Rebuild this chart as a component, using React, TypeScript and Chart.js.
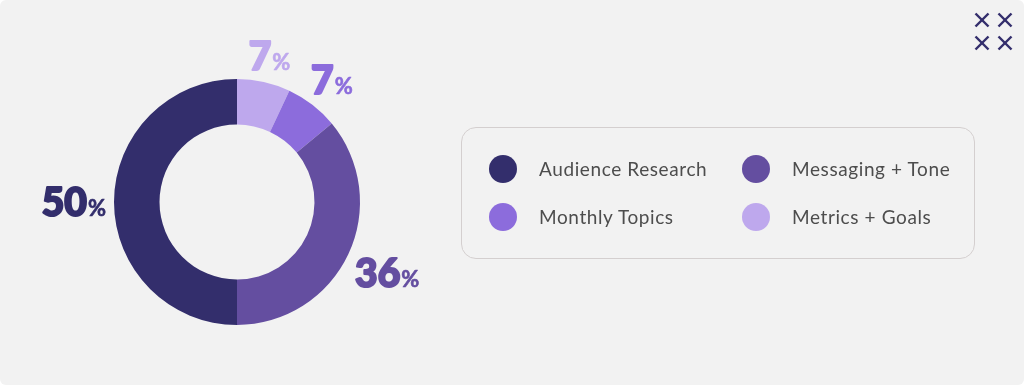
import React, { useEffect, useRef } from "react";
import { Chart, registerables } from "chart.js";

Chart.register(...registerables);

const categories = ["Metrics + Goals", "Monthly Topics", "Messaging + Tone", "Audience Research"];
const values = [7, 7, 36, 50];
const colors = ["#bea8ed", "#8c6cdc", "#644ea0", "#332e6c"];
const legendOrder = ["Audience Research", "Messaging + Tone", "Monthly Topics", "Metrics + Goals"];

const labelPlugin = {
  id: "outerLabels",
  afterDatasetsDraw(chart: any) {
    const ctx = chart.ctx;
    const meta = chart.getDatasetMeta(0);
    const data = chart.data.datasets[0].data as number[];
    const cols = chart.data.datasets[0].backgroundColor as string[];
    const numFont = "900 39px Lato";
    const pctFont = "700 22px Lato";
    const capH = 39 * 0.72;
    const gap = 8;
    meta.data.forEach((arc: any, i: number) => {
      const { x, y, startAngle, endAngle, outerRadius } = arc.getProps(
        ["x", "y", "startAngle", "endAngle", "outerRadius"],
        true
      );
      const mid = (startAngle + endAngle) / 2;
      const dx = Math.cos(mid);
      const dy = Math.sin(mid);
      const num = String(data[i]);
      ctx.save();
      ctx.font = numFont;
      const wNum = ctx.measureText(num).width + 1;
      ctx.font = pctFont;
      const wPct = ctx.measureText("%").width;
      const w = wNum + wPct;
      const h = capH;
      const dist = outerRadius + gap + Math.abs(dx) * (w / 2) + Math.abs(dy) * (h / 2);
      const cx = x + dx * dist;
      const cy = y + dy * dist;
      const left = cx - w / 2;
      const base = cy + h / 2;
      ctx.fillStyle = cols[i];
      ctx.strokeStyle = cols[i];
      ctx.lineJoin = "round";
      ctx.lineWidth = 2;
      ctx.textBaseline = "alphabetic";
      ctx.textAlign = "left";
      ctx.font = numFont;
      ctx.fillText(num, left, base);
      ctx.strokeText(num, left, base);
      ctx.font = pctFont;
      ctx.lineWidth = 0.6;
      ctx.fillText("%", left + wNum, base);
      ctx.strokeText("%", left + wNum, base);
      ctx.restore();
    });
  },
};

function XIcon({ x, y }: { x: number; y: number }) {
  return (
    <g transform={`translate(${x},${y})`} stroke="#332e6c" strokeWidth={2.4} strokeLinecap="butt">
      <line x1={-6.5} y1={-6.5} x2={6.5} y2={6.5} />
      <line x1={-6.5} y1={6.5} x2={6.5} y2={-6.5} />
    </g>
  );
}

export default function App() {
  const canvasRef = useRef<HTMLCanvasElement | null>(null);

  useEffect(() => {
    document.body.style.margin = "0";
    document.body.style.background = "#ffffff";
    const chart = new Chart(canvasRef.current as HTMLCanvasElement, {
      type: "doughnut",
      data: {
        labels: categories,
        datasets: [
          {
            data: values,
            backgroundColor: colors,
            borderWidth: 0,
          },
        ],
      },
      options: {
        animation: false,
        responsive: false,
        maintainAspectRatio: false,
        cutout: "63%",
        layout: { padding: { top: 79, bottom: 60, left: 60, right: 60 } },
        plugins: {
          legend: { display: false },
          tooltip: { enabled: false },
        },
      },
      plugins: [labelPlugin],
    });
    return () => chart.destroy();
  }, []);

  const legendColor = (name: string) => colors[categories.indexOf(name)];

  return (
    <div
      style={{
        position: "relative",
        width: 1024,
        height: 385,
        background: "#f2f2f2",
        borderRadius: 6,
        overflow: "hidden",
      }}
    >
      <canvas
        ref={canvasRef}
        width={474}
        height={385}
        style={{ position: "absolute", left: 0, top: 0, width: 474, height: 385 }}
      />
      <div
        style={{
          position: "absolute",
          left: 461,
          top: 127,
          width: 512,
          height: 130,
          border: "1px solid #d4cfcf",
          borderRadius: 15,
          boxSizing: "content-box",
        }}
      >
        {legendOrder.map((name, i) => {
          const col = i % 2;
          const row = Math.floor(i / 2);
          return (
            <div
              key={name}
              style={{
                position: "absolute",
                left: col === 0 ? 27 : 280,
                top: row === 0 ? 27 : 75,
                height: 28,
                display: "flex",
                alignItems: "center",
                whiteSpace: "nowrap",
              }}
            >
              <div
                style={{
                  width: 28,
                  height: 28,
                  borderRadius: "50%",
                  background: legendColor(name),
                  flex: "0 0 auto",
                }}
              />
              <span
                style={{
                  marginLeft: 22,
                  marginTop: -2,
                  fontFamily: "Lato, 'Noto Sans', sans-serif",
                  fontSize: 19,
                  color: "#4d4d4d",
                  letterSpacing: 0.6,
                }}
              >
                {name}
              </span>
            </div>
          );
        })}
      </div>
      <svg
        width={60}
        height={60}
        viewBox="964 0 60 60"
        style={{ position: "absolute", left: 964, top: 0 }}
      >
        <XIcon x={982} y={20} />
        <XIcon x={1005} y={20} />
        <XIcon x={982} y={43} />
        <XIcon x={1005} y={43} />
      </svg>
    </div>
  );
}
